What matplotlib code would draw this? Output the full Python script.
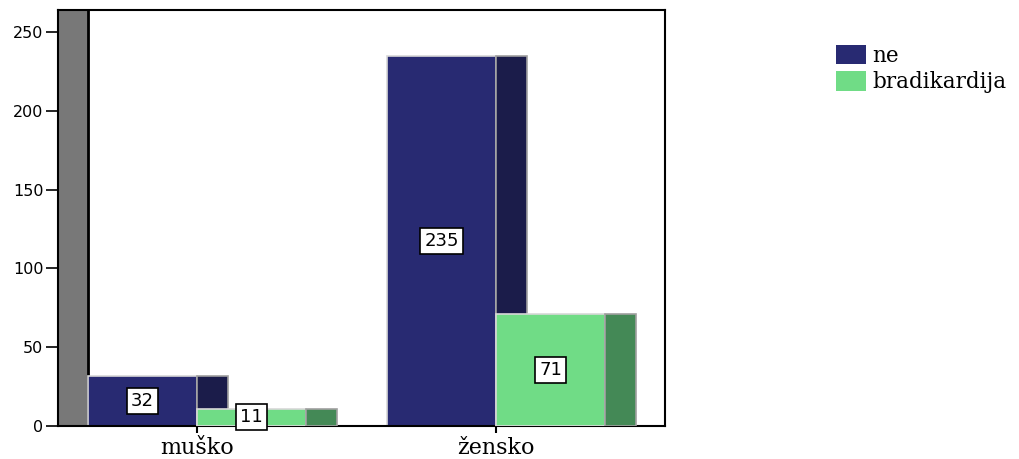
import matplotlib
matplotlib.use("Agg")
import matplotlib.pyplot as plt
from matplotlib.patches import Patch

categories = ["muško", "žensko"]
series_names = ["ne", "bradikardija"]
ne_values = [32, 235]
brad_values = [11, 71]
y_ticks = [0, 50, 100, 150, 200, 250]

front_colors = ["#282a72", "#70dc86"]
side_colors = ["#1b1c4a", "#448956"]

fig = plt.figure(figsize=(10.2, 4.59), dpi=100)
ax = fig.add_axes([58 / 1020, 33 / 459, 607 / 1020, 416 / 459])

w = 109 / 299   # front face width
d = 31 / 299    # side (depth) width
xleft = (58 - 197) / 299
xright = (665 - 197) / 299
ymax = 264

ax.set_xlim(xleft, xright)
ax.set_ylim(0, ymax)

# grey 3D wall on the left
ax.axvspan(xleft, -w, color="#787878", zorder=0)
ax.axvline(-w, color="black", lw=2, zorder=1)

pos = list(range(len(categories)))
edge = "#d8d8d8"
for i, vals in enumerate([ne_values, brad_values]):
    xs = [p - w + i * w for p in pos]
    ax.bar(xs, vals, width=w, align="edge", color=front_colors[i],
           edgecolor=edge, linewidth=1.2, zorder=2 + 2 * i)
    ax.bar([x + w for x in xs], vals, width=d, align="edge", color=side_colors[i],
           edgecolor="#a0a0a0", linewidth=1.2, zorder=2 + 2 * i + 1)
    for x, v in zip(xs, vals):
        ax.text(x + w / 2, v / 2, str(v), ha="center", va="center",
                fontsize=13, family="DejaVu Sans", zorder=10,
                bbox=dict(boxstyle="square,pad=0.22", fc="white", ec="black", lw=1.2))

for s in ax.spines.values():
    s.set_color("black")
    s.set_linewidth(1.5)

ax.set_yticks(y_ticks)
ax.set_yticklabels([str(t) for t in y_ticks], family="DejaVu Sans", fontsize=11.5)
ax.tick_params(axis="y", direction="out", length=8.5, width=1.2, pad=2)
ax.set_xticks(pos)
ax.set_xticklabels(categories, family="DejaVu Serif", fontsize=16)
ax.tick_params(axis="x", direction="out", length=5, width=1.5, pad=3)

handles = [Patch(facecolor=c, edgecolor="none") for c in front_colors]
fig.legend(handles, series_names, loc="upper left", bbox_to_anchor=(0.8196, 0.902),
           frameon=False, prop=dict(family="DejaVu Serif", size=15.5),
           handlelength=1.4, handleheight=1.0, handletextpad=0.3,
           labelspacing=0.2, borderpad=0, borderaxespad=0)

fig.savefig("out.png", dpi=100)
